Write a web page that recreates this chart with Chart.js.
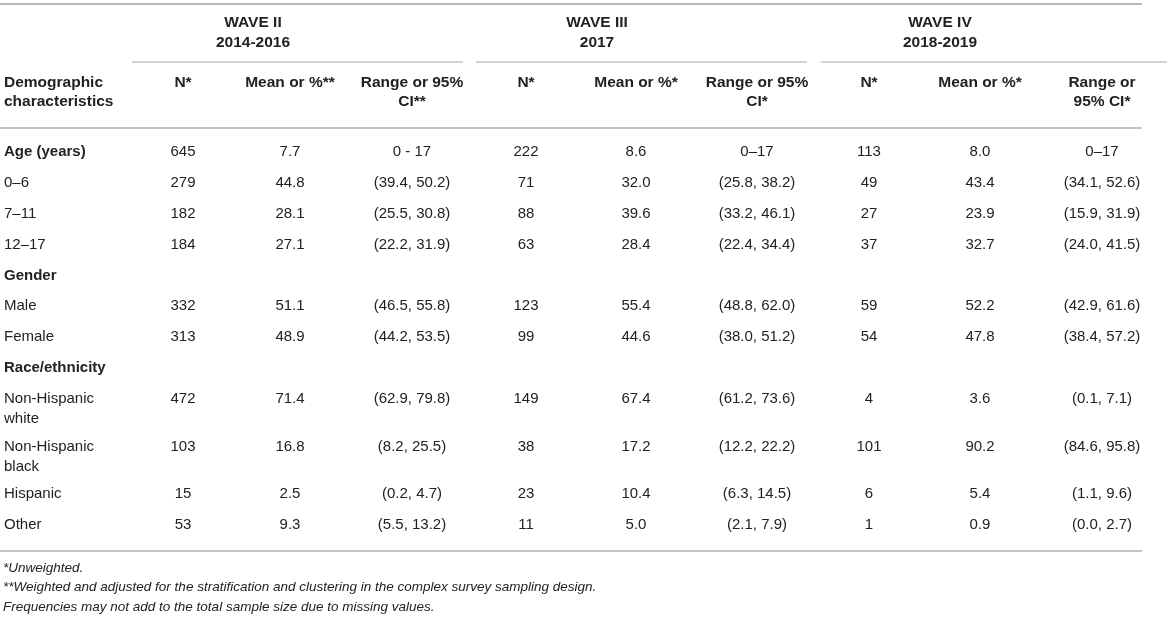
<!DOCTYPE html>
<html>
<head>
    <meta charset="utf-8" />
    <title>Sample characteristics by wave</title>
    <script src="https://cdn.jsdelivr.net/npm/chart.js@4.4.1/dist/chart.umd.min.js"></script>
    <style>
        html, body { margin: 0; padding: 0; background: #fff; }
        #table { display: block; }
    </style>
</head>
<body>
    <canvas id="table" width="1169" height="619"></canvas>
    <script>
        // ---- data ----
        const rowLabels = ['Age (years)', '0–6', '7–11', '12–17', 'Gender', 'Male', 'Female',
            'Race/ethnicity', 'Non-Hispanic\nwhite', 'Non-Hispanic\nblack', 'Hispanic', 'Other'];
        const groupRows = [true, false, false, false, true, false, false, true, false, false, false, false];

        const waveNames = ['WAVE II', 'WAVE III', 'WAVE IV'];
        const waveYears = ['2014-2016', '2017', '2018-2019'];
        const firstHeader = 'Demographic\ncharacteristics';
        const colHeaders = ['N*', 'Mean or %**', 'Range or 95%\nCI**',
            'N*', 'Mean or %*', 'Range or 95%\nCI*',
            'N*', 'Mean or %*', 'Range or\n95% CI*'];

        const wave2N = [645, 279, 182, 184, null, 332, 313, null, 472, 103, 15, 53];
        const wave2Mean = [7.7, 44.8, 28.1, 27.1, null, 51.1, 48.9, null, 71.4, 16.8, 2.5, 9.3];
        const wave2Range = ['0 - 17', '(39.4, 50.2)', '(25.5, 30.8)', '(22.2, 31.9)', null,
            '(46.5, 55.8)', '(44.2, 53.5)', null, '(62.9, 79.8)', '(8.2, 25.5)', '(0.2, 4.7)', '(5.5, 13.2)'];

        const wave3N = [222, 71, 88, 63, null, 123, 99, null, 149, 38, 23, 11];
        const wave3Mean = [8.6, 32.0, 39.6, 28.4, null, 55.4, 44.6, null, 67.4, 17.2, 10.4, 5.0];
        const wave3Range = ['0–17', '(25.8, 38.2)', '(33.2, 46.1)', '(22.4, 34.4)', null,
            '(48.8, 62.0)', '(38.0, 51.2)', null, '(61.2, 73.6)', '(12.2, 22.2)', '(6.3, 14.5)', '(2.1, 7.9)'];

        const wave4N = [113, 49, 27, 37, null, 59, 54, null, 4, 101, 6, 1];
        const wave4Mean = [8.0, 43.4, 23.9, 32.7, null, 52.2, 47.8, null, 3.6, 90.2, 5.4, 0.9];
        const wave4Range = ['0–17', '(34.1, 52.6)', '(15.9, 31.9)', '(24.0, 41.5)', null,
            '(42.9, 61.6)', '(38.4, 57.2)', null, '(0.1, 7.1)', '(84.6, 95.8)', '(1.1, 9.6)', '(0.0, 2.7)'];

        const footnotes = ['*Unweighted.',
            '**Weighted and adjusted for the stratification and clustering in the complex survey sampling design.',
            'Frequencies may not add to the total sample size due to missing values.'];

        // ---- layout (table units = pixels of the 1169x619 sheet) ----
        const W = 1169, H = 619;
        const labelColWidth = 130;
        const colWidths = [106, 108, 136, 92, 128, 114, 110, 112, 132];
        const waveTitleX = [253, 597, 940];
        const waveRuleSpan = [[132, 463], [476, 807], [821, 1167]];
        const tableRight = 1142;
        const ruleY = { top: 4, wave: 62, header: 128, bottom: 551 };
        const waveTitleY = 23, waveYearY = 43, headY = 83, headLine = 19;
        const firstRowY = 152, rowStep = 30.85, extraLine = 16.85, labelLine = 20;
        const footY = 568, footLine = 19.5;

        const FONT = '"Liberation Sans", Arial, Helvetica, sans-serif';
        const TEXT = '#222';
        const RULE = '#c4c4c4';

        // column centres from widths
        const colCenters = [];
        let edge = labelColWidth;
        colWidths.forEach(w => { colCenters.push(edge + w / 2); edge += w; });

        // row centres from line counts
        const rowY = [];
        let y = firstRowY;
        rowLabels.forEach(lab => {
            rowY.push(y);
            y += rowStep + extraLine * (lab.split('\n').length - 1);
        });

        const fmtN = v => String(v);
        const fmtMean = v => v.toFixed(1);
        const fmtRange = v => v;
        const columns = [
            [wave2N, fmtN], [wave2Mean, fmtMean], [wave2Range, fmtRange],
            [wave3N, fmtN], [wave3Mean, fmtMean], [wave3Range, fmtRange],
            [wave4N, fmtN], [wave4Mean, fmtMean], [wave4Range, fmtRange]
        ];

        const datasets = columns.map(([vals, fmt], ci) => ({
            label: colHeaders[ci],
            data: vals.map((v, ri) => v == null ? null : { x: colCenters[ci], y: rowY[ri], text: fmt(v) })
                .filter(d => d !== null),
            pointRadius: 0,
            pointHoverRadius: 0
        }));

        const tablePlugin = {
            id: 'tableText',
            afterDraw(chart) {
                const ctx = chart.ctx;
                const xs = chart.scales.x, ys = chart.scales.y;
                const px = v => xs.getPixelForValue(v);
                const py = v => ys.getPixelForValue(v);

                const rule = (x0, x1, yv, lw, color) => {
                    ctx.save();
                    ctx.strokeStyle = color;
                    ctx.lineWidth = lw;
                    ctx.beginPath();
                    ctx.moveTo(px(x0), py(yv));
                    ctx.lineTo(px(x1), py(yv));
                    ctx.stroke();
                    ctx.restore();
                };
                const lines = (text, x, yv, step) => {
                    text.split('\n').forEach((t, i) => ctx.fillText(t, px(x), py(yv + i * step)));
                };

                // rules
                rule(0, tableRight, ruleY.top, 2, '#b8b8b8');
                waveRuleSpan.forEach(([a, b]) => rule(a, b, ruleY.wave, 1.6, RULE));
                rule(0, tableRight, ruleY.header, 1.8, RULE);
                rule(0, tableRight, ruleY.bottom, 1.8, RULE);

                ctx.save();
                ctx.fillStyle = TEXT;
                ctx.textBaseline = 'middle';

                // header
                ctx.font = 'bold 15.5px ' + FONT;
                ctx.textAlign = 'center';
                waveNames.forEach((n, i) => {
                    ctx.fillText(n, px(waveTitleX[i]), py(waveTitleY));
                    ctx.fillText(waveYears[i], px(waveTitleX[i]), py(waveYearY));
                });
                colHeaders.forEach((h, i) => lines(h, colCenters[i], headY, headLine));
                ctx.textAlign = 'left';
                lines(firstHeader, 4, headY, headLine);

                // row labels
                rowLabels.forEach((lab, i) => {
                    ctx.font = (groupRows[i] ? 'bold ' : '') + '15px ' + FONT;
                    lines(lab, 4, rowY[i], labelLine);
                });

                // cells, placed by the dataset elements
                ctx.font = '15px ' + FONT;
                ctx.textAlign = 'center';
                chart.data.datasets.forEach((ds, di) => {
                    chart.getDatasetMeta(di).data.forEach((el, j) => {
                        ctx.fillText(ds.data[j].text, el.x, el.y);
                    });
                });

                // footnotes
                ctx.font = 'italic 13.5px ' + FONT;
                ctx.textAlign = 'left';
                footnotes.forEach((f, i) => ctx.fillText(f, px(3), py(footY + i * footLine)));
                ctx.restore();
            }
        };

        new Chart(document.getElementById('table'), {
            type: 'scatter',
            data: { datasets: datasets },
            options: {
                responsive: false,
                animation: false,
                events: [],
                layout: { padding: 0 },
                plugins: { legend: { display: false }, tooltip: { enabled: false } },
                scales: {
                    x: { type: 'linear', min: 0, max: W, display: false },
                    y: { type: 'linear', min: 0, max: H, reverse: true, display: false }
                }
            },
            plugins: [tablePlugin]
        });
    </script>
</body>
</html>
